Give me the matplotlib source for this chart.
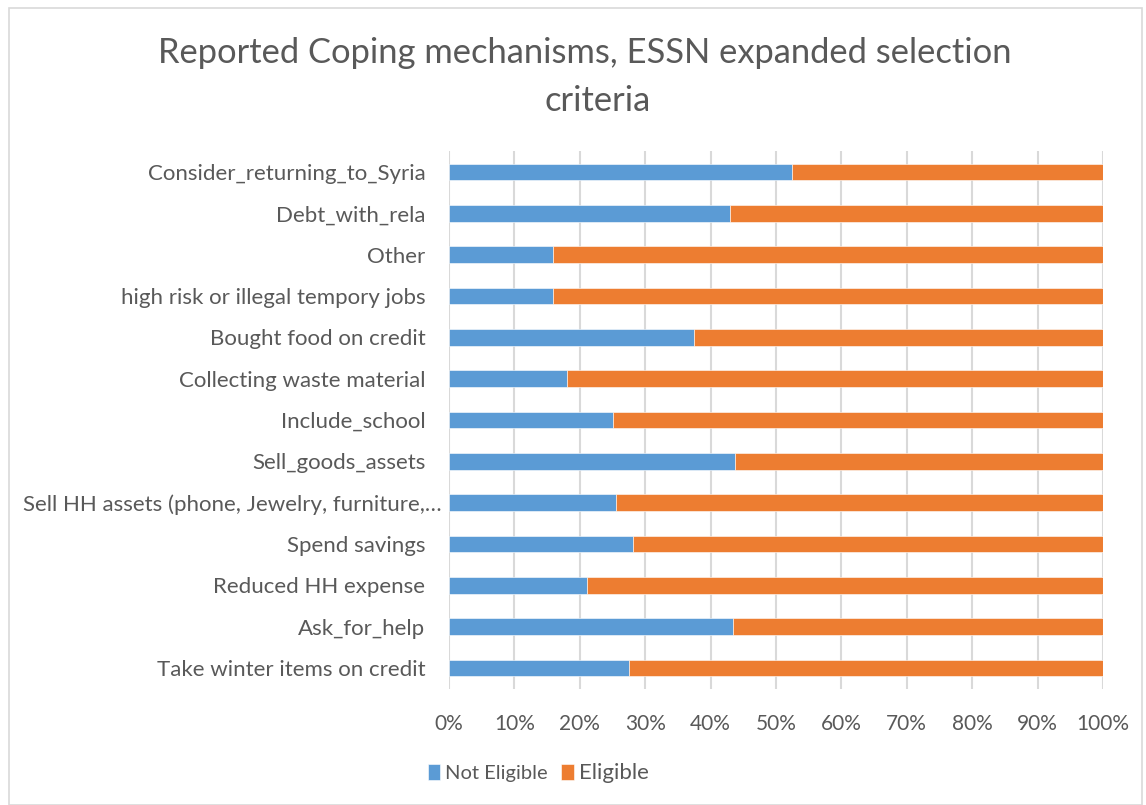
import matplotlib
matplotlib.use("Agg")
import matplotlib.pyplot as plt
from matplotlib.patches import Rectangle
from matplotlib.transforms import ScaledTranslation
import numpy as np

categories = [
    "Consider_returning_to_Syria",
    "Debt_with_rela",
    "Other",
    "high risk or illegal tempory jobs",
    "Bought food on credit",
    "Collecting waste material",
    "Include_school",
    "Sell_goods_assets",
    "Sell HH assets (phone, Jewelry, furniture,…",
    "Spend savings",
    "Reduced HH expense",
    "Ask_for_help",
    "Take winter items on credit",
]
not_eligible = [52.5, 42.9, 15.9, 15.9, 37.5, 18.0, 25.0, 43.8, 25.5, 28.1, 21.1, 43.5, 27.5]
eligible = [100 - v for v in not_eligible]
ticks = [0, 10, 20, 30, 40, 50, 60, 70, 80, 90, 100]
tick_labels = [f"{t}%" for t in ticks]

BLUE = "#5b9bd5"
ORANGE = "#ed7d31"
TEXT = "#595959"
GRID = "#d9d9d9"

plt.rcParams["font.family"] = ["Lato", "DejaVu Sans"]

W, H = 1146, 805
fig = plt.figure(figsize=(W / 100, H / 100), dpi=100)
fig.patch.set_facecolor("white")

left, right, top, bottom = 449, 1103, 151.3, 688.7
ax = fig.add_axes([left / W, 1 - bottom / H, (right - left) / W, (bottom - top) / H])

y = np.arange(len(categories))
ax.barh(y, not_eligible, height=0.4, color=BLUE, label="Not Eligible", zorder=3,
        edgecolor="white", linewidth=0.4)
ax.barh(y, eligible, left=not_eligible, height=0.4, color=ORANGE, label="Eligible", zorder=3,
        edgecolor="white", linewidth=0.4)

ax.set_xlim(0, 100)
ax.set_ylim(len(categories) - 0.5, -0.5)
ax.set_yticks(y)
ax.set_yticklabels(categories, fontsize=16, color=TEXT)
ax.set_xticks(ticks)
ax.set_xticklabels(tick_labels, fontsize=15, color=TEXT)
ax.tick_params(axis="both", length=0)
ax.tick_params(axis="y", pad=17)
ax.tick_params(axis="x", pad=18)
ax.grid(axis="x", color=GRID, linewidth=1.5, zorder=0)
for s in ax.spines.values():
    s.set_visible(False)

# the truncated long label sits closer to the axis in the original
long_lbl = ax.get_yticklabels()[8]
long_lbl.set_transform(long_lbl.get_transform() + ScaledTranslation(0.16, 0, fig.dpi_scale_trans))

fig.text(585 / W, 1 - 53 / H, "Reported Coping mechanisms, ESSN expanded selection",
         ha="center", va="center", fontsize=24.8, color=TEXT)
fig.text(598 / W, 1 - 101 / H, "criteria", ha="center", va="center", fontsize=24.8, color=TEXT)

leg = fig.legend(loc="center", bbox_to_anchor=(538 / W, 1 - 773 / H), ncol=2, frameon=False,
                 fontsize=14.5, handlelength=0.6, handleheight=0.8, handletextpad=0.25,
                 columnspacing=0.7)
for t in leg.get_texts():
    t.set_color(TEXT)
leg.get_texts()[1].set_fontsize(16)

fig.patches.append(Rectangle((9 / W, 0), (1142 - 9) / W, 1 - 8 / H, transform=fig.transFigure,
                             fill=False, edgecolor=GRID, linewidth=1.2))

fig.savefig("out.png", dpi=100)
